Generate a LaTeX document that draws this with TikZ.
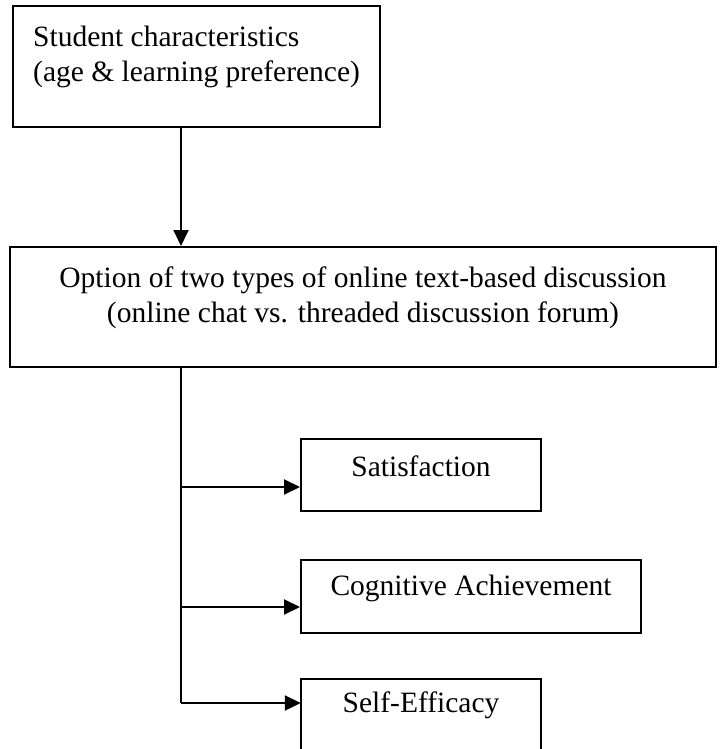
\documentclass[tikz,border=0pt]{standalone}
\usepackage{fontspec}
\setmainfont{Liberation Serif}
\usetikzlibrary{arrows.meta}
\begin{document}
\begin{tikzpicture}[x=1pt,y=-1pt,
  box/.style={draw, line width=2pt, rectangle, inner sep=0pt},
  txt/.style={inner sep=0pt, font=\fontsize{29.5}{35}\selectfont},
  line/.style={line width=2pt},
  arr/.style={line width=2pt, -{Triangle[length=16pt,width=15pt]}}]
\useasboundingbox (0,0) rectangle (721,749);
% boxes
\node[box, minimum width=367pt, minimum height=121pt] (b1) at (196.5,66.5) {};
\node[box, minimum width=706pt, minimum height=120pt] (b2) at (363,307) {};
\node[box, minimum width=240pt, minimum height=72pt] (sat) at (421,475) {};
\node[box, minimum width=340pt, minimum height=73pt] (cog) at (471,596.5) {};
\node[inner sep=0pt, minimum width=240pt, minimum height=72pt] (se) at (421,715) {};
\draw[line] (se.south west) |- (se.north east) -- (se.south east);
% texts
\node[txt, anchor=base west] (t1a) at (33,47) {Student characteristics};
\node[txt, anchor=base west] (t1b) at (33,82) {(age \& learning preference)};
\node[txt, anchor=base] (t2a) at (363,287) {Option of two types of online text-based discussion};
\node[txt, anchor=base] (t2b) at (363,322) {(online chat vs. threaded discussion forum)};
\node[txt] (t3) at (sat.center |- 0,466) {Satisfaction};
\node[txt] (t4) at (cog.center |- 0,588) {Cognitive Achievement};
\node[txt] (t5) at (se.center |- 0,705) {Self-Efficacy};
% connectors
\coordinate (a1) at (181,127);
\draw[arr] (a1) -- (a1 |- b2.north);
\coordinate (s0) at (181,367);
\coordinate (j1) at (181,487);
\coordinate (j2) at (181,607);
\coordinate (j3) at (181,703);
\draw[line] (s0) -- (j3);
\draw[arr] (j1) -- (j1 -| sat.west);
\draw[arr] (j2) -- (j2 -| cog.west);
\draw[arr] (j3) -- (j3 -| se.west);
\end{tikzpicture}
\end{document}
